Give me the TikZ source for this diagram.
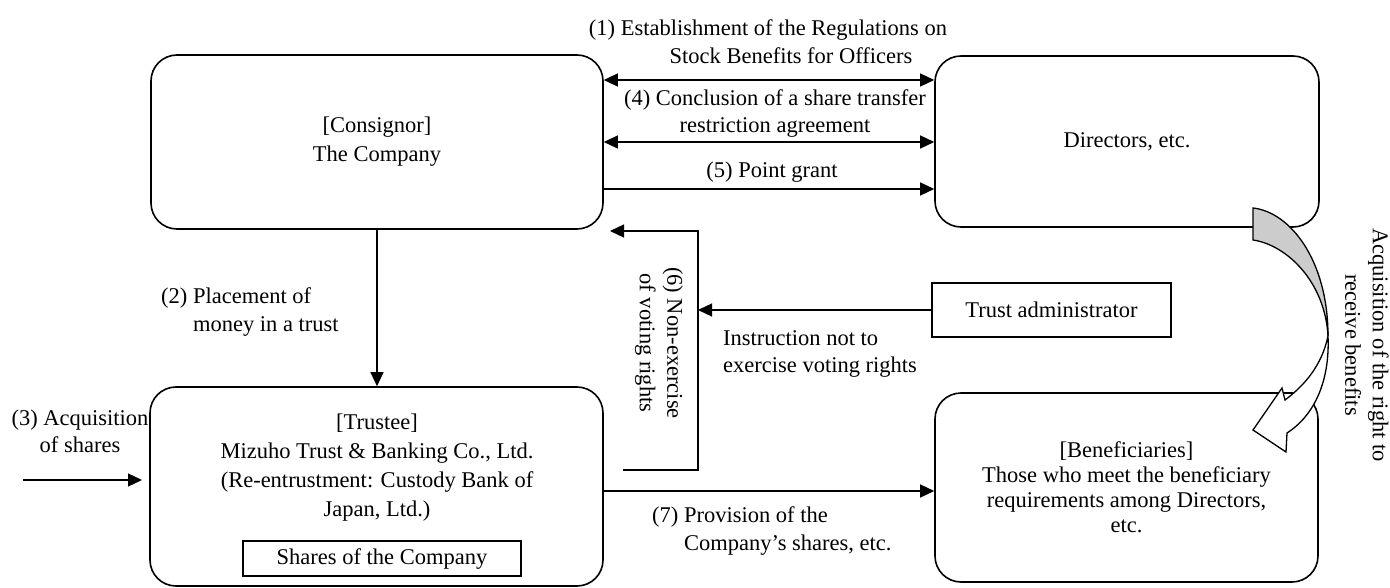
\documentclass[tikz,border=0pt]{standalone}
\usepackage{fontspec}
\setmainfont{Liberation Serif}
\usetikzlibrary{arrows.meta,positioning,calc}
\tikzset{
  rbox/.style ={draw,line width=1.6pt,rounded corners=26pt,align=center,
                inner sep=0pt},
  sbox/.style ={draw,line width=1.4pt,align=center,inner sep=0pt},
  lbl/.style  ={align=center,inner sep=0pt,
                font=\fontsize{22.5}{27.5}\selectfont},
  ar/.style   ={line width=1.3pt,-{Triangle[length=14pt,width=13pt]}},
  dar/.style  ={line width=1.3pt,
                {Triangle[length=14pt,width=13pt]}-{Triangle[length=14pt,width=13pt]}},
}

\begin{document}
\begin{tikzpicture}[x=1pt,y=-1pt,font=\fontsize{22.5}{29}\selectfont]
\useasboundingbox (0,0) rectangle (1390,588);
% parties
\node[rbox,minimum width=452pt,minimum height=174pt] (Co) at (377,142)
  {[Consignor]\\The Company};
\node[rbox,minimum width=384pt,minimum height=171pt] (Di) at (1127,141.5)
  {Directors, etc.};
\node[rbox,minimum width=453pt,minimum height=199pt] (Tr) at (376.5,486.5) {};
\node[lbl,font=\fontsize{22.5}{29}\selectfont] (Trt) at (377,467.5)
  {[Trustee]\\Mizuho Trust \& Banking Co., Ltd.\\(Re-entrustment: Custody Bank of\\Japan, Ltd.)};
\node[sbox,minimum width=278pt,minimum height=35pt,above=10pt of Tr.south,xshift=5.5pt] (Sh)
  {Shares of the Company};
\node[rbox,minimum width=383pt,minimum height=189pt,
      font=\fontsize{22.5}{25}\selectfont] (Be) at (1126.5,487.5)
  {[Beneficiaries]\\Those who meet the beneficiary\\requirements among Directors,\\etc.};
\node[sbox,line width=1.6pt,minimum width=239pt,minimum height=54pt] (TA) at (1051.5,310)
  {Trust administrator};
% helper points
\coordinate (acqS) at (23,480);
\coordinate (acqE) at (142,480);
\coordinate (nvS) at (623,470);
\coordinate (nvK) at (698,231);
\coordinate (nvE) at (610,231);
% connectors
\draw[dar] (Co.east |- 0,80) -- (Di.west |- 0,80);
\draw[dar] (Co.east) -- (Di.west |- Co.east);
\draw[ar] (Co.east |- 0,189) -- (Di.west |- 0,189);
\draw[ar] (Co.south) -- (Co.south |- Tr.north);
\draw[ar] (acqS) -- (acqE);
\draw[ar] (nvS) -| (nvK) -- (nvE);
\draw[ar] (TA.west) -- (nvK |- TA.west);
\draw[ar] (Tr.east |- 0,491) -- (Be.west |- 0,491);
% curved arrow
\filldraw[fill=gray!40,line width=1.3pt] (1253,208)
  .. controls (1290,212) and (1328,260) .. (1328,336)
  .. controls (1325,282) and (1287,245) .. (1253,240) -- cycle;
\filldraw[fill=white,line width=1.3pt] (1328,336)
  .. controls (1330,380) and (1315,415) .. (1287,433)
  -- (1286,452) -- (1253,430) -- (1282,388) -- (1285,400)
  .. controls (1305,385) and (1322,365) .. (1328,336) -- cycle;
% labels
\node[lbl] (l1) at (768,41.5)
  {(1) Establishment of the Regulations on\\\hspace*{46pt}Stock Benefits for Officers};
\node[lbl] (l4) at (775,113.5)
  {(4) Conclusion of a share transfer\\restriction agreement};
\node[lbl] (l5) at (772,172) {(5) Point grant};
\node[lbl,align=left,anchor=west] (l2) at (161,312)
  {(2) Placement of\\\phantom{(2) }money in a trust};
\node[lbl] (l3) at (80,431.5) {(3) Acquisition\\of shares};
\node[lbl,align=left,anchor=west] (lin) at (723,354)
  {Instruction not to\\exercise voting rights};
\node[lbl,rotate=-90] (l6) at (659,343) {(6) Non-exercise\\of voting rights};
\node[lbl,align=left,anchor=west] (l7) at (652,531)
  {(7) Provision of the\\\phantom{(7) }Company's shares, etc.};
\node[lbl,rotate=-90] (lac) at (1367,345)
  {Acquisition of the right to\\receive benefits};
\end{tikzpicture}
\end{document}
